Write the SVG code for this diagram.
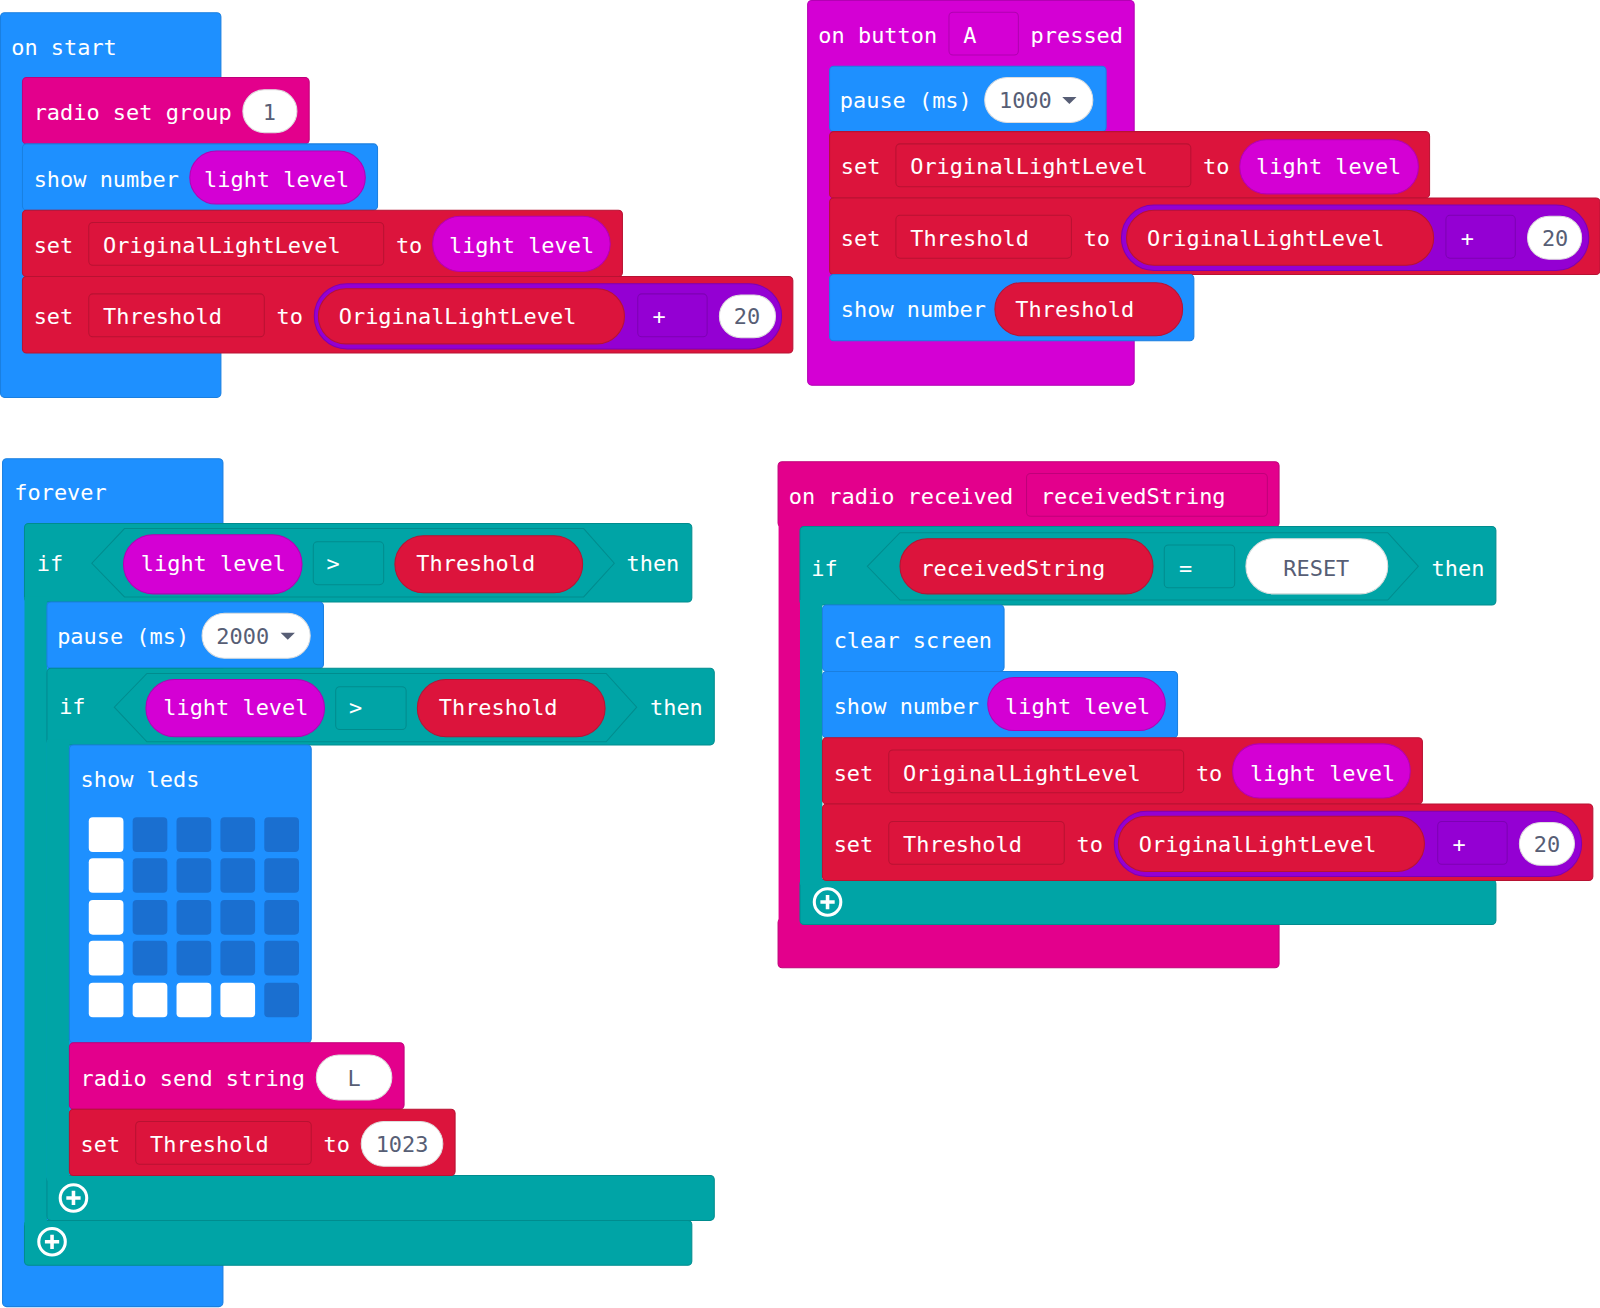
<svg xmlns="http://www.w3.org/2000/svg" width="1600" height="1308" viewBox="0 0 1600 1308">
<style>
text{font-family:"DejaVu Sans Mono","Liberation Mono",monospace;font-size:21.5px;fill:#fff}
.d{fill:#575e75}
.c{text-anchor:middle}
.blue{fill:#1e90ff;stroke:#1a7fe0}
.pink{fill:#e3008c;stroke:#c0007a}
.red{fill:#dc143c;stroke:#b81232}
.mag{fill:#d400d4;stroke:#b300b3}
.pur{fill:#9400d3;stroke:#7d00b3}
.teal{fill:#00a4a6;stroke:#008c8e}
.fr{fill:#dc143c;stroke:#b81232}
.ft{fill:#00a4a6;stroke:#008c8e}
.fp{fill:#9400d3;stroke:#7d00b3}
.fm{fill:#d400d4;stroke:#b000b0}
.w{fill:#fff;stroke:#ddd}
.on{fill:#fff}
.off{fill:#1a6fd0}
</style>
<defs>
<g id="plus"><circle r="13" fill="none" stroke="#fff" stroke-width="3"/><path d="M-7 0H7M0 -7V7" stroke="#fff" stroke-width="3.5"/></g>
</defs>
<g transform="scale(1.0204)">
<g id="on-start">
<rect class="blue" x="0.5" y="12.5" width="216" height="377" rx="4"/>
<text x="11" y="54">on start</text>
<g id="radio-set-group">
<rect class="pink" x="22" y="76" width="281" height="65" rx="4"/>
<text x="33" y="118">radio set group</text>
<rect class="w" x="238" y="88" width="53" height="42" rx="21"/><text class="d c" x="264" y="118">1</text>
</g>
<g id="show-number-1">
<rect class="blue" x="22" y="141" width="348" height="65" rx="4"/>
<text x="33" y="183">show number</text>
<rect class="mag" x="186" y="148" width="172" height="52" rx="26"/><text x="200" y="183">light level</text>
</g>
<g id="set-oll-1">
<rect class="red" x="22" y="206" width="588" height="65" rx="4"/>
<text x="33" y="248">set</text>
<rect class="fr" x="87" y="218" width="289" height="42" rx="4"/><text x="101" y="248">OriginalLightLevel</text>
<text x="388" y="248">to</text>
<rect class="mag" x="424" y="212" width="174" height="54" rx="27"/><text x="440" y="248">light level</text>
</g>
<g id="set-thr-1">
<rect class="red" x="22" y="271" width="755" height="75" rx="4"/>
<text x="33" y="318">set</text>
<rect class="fr" x="87" y="288" width="172" height="42" rx="4"/><text x="101" y="318">Threshold</text>
<text x="271" y="318">to</text>
<rect class="pur" x="308" y="278" width="458" height="64" rx="32"/>
<rect class="red" x="312" y="283" width="300" height="54" rx="27"/><text x="332" y="318">OriginalLightLevel</text>
<rect class="fp" x="625" y="288" width="68" height="42" rx="4"/><text class="c" x="646" y="318">+</text>
<rect class="w" x="705" y="289" width="55" height="42" rx="21"/><text class="d c" x="732" y="318">20</text>
</g>
</g>

<g id="on-button">
<rect class="mag" x="791.5" y="0.5" width="320" height="377" rx="4"/>
<text x="802" y="42">on button</text>
<rect class="fm" x="930" y="12" width="68" height="42" rx="4"/><text x="944" y="42">A</text>
<text x="1010" y="42">pressed</text>
<g id="pause-1000">
<rect class="blue" x="813" y="65" width="271" height="64" rx="4"/>
<text x="823" y="106">pause (ms)</text>
<rect class="w" x="965" y="76" width="106" height="44" rx="22"/><text class="d" x="979" y="106">1000</text>
<path d="M1041 95h14l-7 7z" fill="#575e75"/>
</g>
<g id="set-oll-2">
<rect class="red" x="813" y="129" width="588" height="65" rx="4"/>
<text x="824" y="171">set</text>
<rect class="fr" x="878" y="141" width="289" height="42" rx="4"/><text x="892" y="171">OriginalLightLevel</text>
<text x="1179" y="171">to</text>
<rect class="mag" x="1215" y="137" width="175" height="53" rx="26"/><text x="1231" y="171">light level</text>
</g>
<g id="set-thr-2">
<rect class="red" x="813" y="194" width="755" height="75" rx="4"/>
<text x="824" y="241">set</text>
<rect class="fr" x="878" y="211" width="172" height="42" rx="4"/><text x="892" y="241">Threshold</text>
<text x="1062" y="241">to</text>
<rect class="pur" x="1099" y="201" width="458" height="64" rx="32"/>
<rect class="red" x="1104" y="206" width="301" height="54" rx="27"/><text x="1124" y="241">OriginalLightLevel</text>
<rect class="fp" x="1417" y="211" width="68" height="42" rx="4"/><text class="c" x="1438" y="241">+</text>
<rect class="w" x="1497" y="212" width="53" height="42" rx="21"/><text class="d c" x="1524" y="241">20</text>
</g>
<g id="show-number-2">
<rect class="blue" x="813" y="269" width="357" height="65" rx="4"/>
<text x="824" y="311">show number</text>
<rect class="red" x="975" y="277" width="184" height="52" rx="26"/><text x="995" y="311">Threshold</text>
</g>
</g>

<g id="forever">
<rect class="blue" x="2.5" y="449.5" width="216" height="831" rx="4"/>
<text x="14" y="490">forever</text>
<g id="if-1">
<rect class="teal" x="24" y="513" width="654" height="77" rx="4"/>
<rect class="teal" x="24" y="1196" width="654" height="44" rx="4"/>
<rect x="24" y="585" width="22" height="616" fill="#00a4a6"/>
<text x="36" y="560">if</text>
<polygon class="ft" points="122,518 572,518 602,552 572,585 122,585 90,552"/>
<rect class="mag" x="121" y="524" width="175" height="58" rx="29"/><text x="138" y="560">light level</text>
<rect class="ft" x="307" y="531" width="69" height="42" rx="4"/><text x="320" y="560">&gt;</text>
<rect class="red" x="387" y="525" width="184" height="56" rx="28"/><text x="408" y="560">Threshold</text>
<text x="614" y="560">then</text>
<use href="#plus" x="51" y="1217"/>
</g>
<g id="pause-2000">
<rect class="blue" x="46" y="590" width="271" height="65" rx="4"/>
<text x="56" y="631">pause (ms)</text>
<rect class="w" x="198" y="601" width="106" height="44" rx="22"/><text class="d" x="212" y="631">2000</text>
<path d="M275 620h14l-7 7z" fill="#575e75"/>
</g>
<g id="if-2">
<rect class="teal" x="46" y="655" width="654" height="75" rx="4"/>
<rect class="teal" x="46" y="1152" width="654" height="44" rx="4"/>
<rect x="46" y="725" width="22" height="432" fill="#00a4a6"/>
<text x="58" y="700">if</text>
<polygon class="ft" points="144,660 594,660 624,693 594,727 144,727 112,693"/>
<rect class="mag" x="143" y="666" width="175" height="56" rx="28"/><text x="160" y="701">light level</text>
<rect class="ft" x="329" y="673" width="69" height="42" rx="4"/><text x="342" y="701">&gt;</text>
<rect class="red" x="409" y="666" width="184" height="56" rx="28"/><text x="430" y="701">Threshold</text>
<text x="637" y="701">then</text>
<use href="#plus" x="72" y="1174"/>
</g>
<g id="show-leds">
<rect class="blue" x="68" y="730" width="237" height="292" rx="4"/>
<text x="79" y="771">show leds</text>
<rect class="on" x="87" y="801" width="34" height="34" rx="4"/><rect class="off" x="130" y="801" width="34" height="34" rx="4"/><rect class="off" x="173" y="801" width="34" height="34" rx="4"/><rect class="off" x="216" y="801" width="34" height="34" rx="4"/><rect class="off" x="259" y="801" width="34" height="34" rx="4"/>
<rect class="on" x="87" y="841" width="34" height="34" rx="4"/><rect class="off" x="130" y="841" width="34" height="34" rx="4"/><rect class="off" x="173" y="841" width="34" height="34" rx="4"/><rect class="off" x="216" y="841" width="34" height="34" rx="4"/><rect class="off" x="259" y="841" width="34" height="34" rx="4"/>
<rect class="on" x="87" y="882" width="34" height="34" rx="4"/><rect class="off" x="130" y="882" width="34" height="34" rx="4"/><rect class="off" x="173" y="882" width="34" height="34" rx="4"/><rect class="off" x="216" y="882" width="34" height="34" rx="4"/><rect class="off" x="259" y="882" width="34" height="34" rx="4"/>
<rect class="on" x="87" y="922" width="34" height="34" rx="4"/><rect class="off" x="130" y="922" width="34" height="34" rx="4"/><rect class="off" x="173" y="922" width="34" height="34" rx="4"/><rect class="off" x="216" y="922" width="34" height="34" rx="4"/><rect class="off" x="259" y="922" width="34" height="34" rx="4"/>
<rect class="on" x="87" y="963" width="34" height="34" rx="4"/><rect class="on" x="130" y="963" width="34" height="34" rx="4"/><rect class="on" x="173" y="963" width="34" height="34" rx="4"/><rect class="on" x="216" y="963" width="34" height="34" rx="4"/><rect class="off" x="259" y="963" width="34" height="34" rx="4"/>
</g>
<g id="radio-send-string">
<rect class="pink" x="68" y="1022" width="328" height="65" rx="4"/>
<text x="79" y="1064">radio send string</text>
<rect class="w" x="310" y="1034" width="74" height="44" rx="22"/><text class="d c" x="347" y="1064">L</text>
</g>
<g id="set-thr-1023">
<rect class="red" x="68" y="1087" width="378" height="65" rx="4"/>
<text x="79" y="1129">set</text>
<rect class="fr" x="133" y="1099" width="172" height="42" rx="4"/><text x="147" y="1129">Threshold</text>
<text x="317" y="1129">to</text>
<rect class="w" x="354" y="1099" width="80" height="44" rx="22"/><text class="d c" x="394" y="1129">1023</text>
</g>
</g>

<g id="on-radio-received">
<rect class="pink" x="762.5" y="452.5" width="491" height="64" rx="4"/>
<rect class="pink" x="762.5" y="900" width="491" height="48.5" rx="4"/>
<rect x="763" y="510" width="22" height="395" fill="#e3008c"/>
<text x="773" y="494">on radio received</text>
<rect class="pink" x="1006" y="464" width="236" height="42" rx="4"/><text x="1020" y="494">receivedString</text>
<g id="if-3">
<rect class="teal" x="784" y="516" width="682" height="77" rx="4"/>
<rect class="teal" x="784" y="862" width="682" height="44" rx="4"/>
<rect x="784" y="588" width="22" height="279" fill="#00a4a6"/>
<text x="795" y="564">if</text>
<polygon class="ft" points="882,522 1360,522 1390,555 1360,588 882,588 850,555"/>
<rect class="red" x="882" y="528" width="248" height="54" rx="27"/><text x="902" y="564">receivedString</text>
<rect class="ft" x="1141" y="534" width="69" height="42" rx="4"/><text class="c" x="1162" y="564">=</text>
<rect class="w" x="1221" y="528" width="139" height="54" rx="27"/><text class="d c" x="1290" y="564">RESET</text>
<text x="1403" y="564">then</text>
<use href="#plus" x="811" y="884"/>
</g>
<g id="clear-screen">
<rect class="blue" x="806" y="593" width="178" height="65" rx="4"/>
<text x="817" y="635">clear screen</text>
</g>
<g id="show-number-3">
<rect class="blue" x="806" y="658" width="348" height="65" rx="4"/>
<text x="817" y="700">show number</text>
<rect class="mag" x="968" y="664" width="174" height="52" rx="26"/><text x="985" y="700">light level</text>
</g>
<g id="set-oll-3">
<rect class="red" x="806" y="723" width="588" height="65" rx="4"/>
<text x="817" y="765">set</text>
<rect class="fr" x="871" y="735" width="289" height="42" rx="4"/><text x="885" y="765">OriginalLightLevel</text>
<text x="1172" y="765">to</text>
<rect class="mag" x="1208" y="729" width="174" height="53" rx="26"/><text x="1225" y="765">light level</text>
</g>
<g id="set-thr-3">
<rect class="red" x="806" y="788" width="755" height="75" rx="4"/>
<text x="817" y="835">set</text>
<rect class="fr" x="871" y="805" width="172" height="42" rx="4"/><text x="885" y="835">Threshold</text>
<text x="1055" y="835">to</text>
<rect class="pur" x="1092" y="795" width="458" height="64" rx="32"/>
<rect class="red" x="1096" y="800" width="300" height="54" rx="27"/><text x="1116" y="835">OriginalLightLevel</text>
<rect class="fp" x="1409" y="805" width="68" height="42" rx="4"/><text class="c" x="1430" y="835">+</text>
<rect class="w" x="1489" y="806" width="54" height="42" rx="21"/><text class="d c" x="1516" y="835">20</text>
</g>
</g>
</g>
<g id="connectors"/>
</svg>
